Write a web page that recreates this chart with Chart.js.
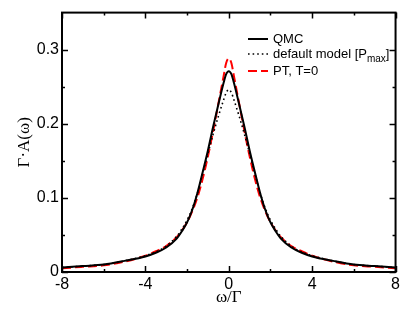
<!DOCTYPE html>
<html>
<head>
<meta charset="utf-8">
<script src="https://cdn.jsdelivr.net/npm/chart.js@4.4.1/dist/chart.umd.min.js"></script>
<style>
  html, body { margin: 0; padding: 0; background: #fff; }
  #wrap { width: 403px; height: 312px; }
</style>
</head>
<body>
<div id="wrap"><canvas id="c" width="403" height="312"></canvas></div>
<script>
// frequency grid (omega / Gamma)
var omega = [-8, -7, -6, -5, -4, -3.5, -3, -2.5, -2.25, -2, -1.75, -1.5, -1.25, -1, -0.75, -0.5, -0.25, -0.125, 0,
             0.125, 0.25, 0.5, 0.75, 1, 1.25, 1.5, 1.75, 2, 2.25, 2.5, 3, 3.5, 4, 5, 6, 7, 8];

// spectral functions
var qmc = [0.006, 0.008, 0.010, 0.015, 0.021, 0.026, 0.033, 0.045, 0.055, 0.067, 0.084, 0.107, 0.135, 0.164, 0.196, 0.226, 0.255, 0.267, 0.271,
           0.267, 0.255, 0.226, 0.196, 0.164, 0.135, 0.107, 0.084, 0.067, 0.055, 0.045, 0.033, 0.026, 0.021, 0.015, 0.010, 0.008, 0.006];
var defaultModel = [0.006, 0.008, 0.010, 0.015, 0.022, 0.027, 0.035, 0.048, 0.058, 0.070, 0.086, 0.107, 0.133, 0.160, 0.186, 0.210, 0.232, 0.242, 0.246,
                    0.242, 0.232, 0.210, 0.186, 0.160, 0.133, 0.107, 0.086, 0.070, 0.058, 0.048, 0.035, 0.027, 0.022, 0.015, 0.010, 0.008, 0.006];
var ptT0 = [0.005, 0.007, 0.009, 0.014, 0.022, 0.028, 0.035, 0.047, 0.056, 0.067, 0.082, 0.101, 0.126, 0.156, 0.190, 0.227, 0.264, 0.282, 0.288,
            0.282, 0.264, 0.227, 0.190, 0.156, 0.126, 0.101, 0.082, 0.067, 0.056, 0.047, 0.035, 0.028, 0.022, 0.014, 0.009, 0.007, 0.005];

var xTicks = [-8, -4, 0, 4, 8];
var xMinor = [-6, -2, 2, 6];
var yTicks = [0, 0.1, 0.2, 0.3];
var yMinor = [0.05, 0.15, 0.25];

var labels = ['QMC', 'default model [P', 'PT, T=0'];

function pts(ys) {
    return omega.map(function (x, i) { return { x: x, y: ys[i] }; });
}

// box around the plot with inward ticks on all four sides
var framePlugin = {
    id: 'frame',
    afterDatasetsDraw: function (chart) {
        var ctx = chart.ctx, a = chart.chartArea;
        var xs = chart.scales.x, ys = chart.scales.y;
        ctx.save();
        ctx.strokeStyle = '#000';
        ctx.lineWidth = 2;
        ctx.strokeRect(a.left, a.top, a.right - a.left, a.bottom - a.top);
        ctx.lineWidth = 1.5;
        ctx.beginPath();
        function xt(v, len) {
            var p = Math.round(xs.getPixelForValue(v)) + 0.5;
            ctx.moveTo(p, a.bottom); ctx.lineTo(p, a.bottom - len);
            ctx.moveTo(p, a.top); ctx.lineTo(p, a.top + len);
        }
        function yt(v, len) {
            var p = Math.round(ys.getPixelForValue(v)) + 0.5;
            ctx.moveTo(a.left, p); ctx.lineTo(a.left + len, p);
            ctx.moveTo(a.right, p); ctx.lineTo(a.right - len, p);
        }
        xTicks.forEach(function (v) { xt(v, 6); });
        xMinor.forEach(function (v) { xt(v, 3); });
        yTicks.forEach(function (v) { yt(v, 6); });
        yMinor.forEach(function (v) { yt(v, 3); });
        ctx.stroke();
        ctx.restore();
    }
};

// legend drawn by hand so the subscript can be set
var legendPlugin = {
    id: 'subLegend',
    afterDraw: function (chart) {
        var ctx = chart.ctx;
        var x0 = 248, x1 = 268, tx = 273;
        var rows = [39, 54, 71];
        ctx.save();
        chart.data.datasets.forEach(function (ds, i) {
            var y = rows[i];
            ctx.strokeStyle = ds.borderColor;
            ctx.lineWidth = ds.borderWidth;
            ctx.setLineDash(ds.borderDash || []);
            ctx.beginPath();
            ctx.moveTo(x0, y); ctx.lineTo(x1, y);
            ctx.stroke();
            ctx.setLineDash([]);
            ctx.fillStyle = '#000';
            ctx.font = '13px "Liberation Sans", Arial, sans-serif';
            ctx.textBaseline = 'middle';
            ctx.fillText(labels[i], tx, y);
            if (i === 1) {
                var w = ctx.measureText(labels[i]).width;
                ctx.font = '10px "Liberation Sans", Arial, sans-serif';
                ctx.fillText('max', tx + w, y + 5);
                var w2 = ctx.measureText('max').width;
                ctx.font = '13px "Liberation Sans", Arial, sans-serif';
                ctx.fillText(']', tx + w + w2, y);
            }
        });
        ctx.restore();
    }
};

var tickFont = { family: '"Liberation Sans", Arial, sans-serif', size: 16 };
var titleFont = { family: '"Liberation Serif", "Times New Roman", serif', size: 17 };

new Chart(document.getElementById('c'), {
    type: 'line',
    data: {
        datasets: [
            { label: 'QMC', data: pts(qmc), borderColor: '#000', borderWidth: 2 },
            { label: 'default model', data: pts(defaultModel), borderColor: '#000', borderWidth: 1.6, borderDash: [1.6, 3] },
            { label: 'PT, T=0', data: pts(ptT0), borderColor: '#ff0000', borderWidth: 2, borderDash: [9, 4] }
        ]
    },
    options: {
        responsive: false,
        animation: false,
        devicePixelRatio: 1,
        layout: { padding: { top: 6, right: 5, left: 0, bottom: 0 } },
        elements: {
            point: { radius: 0 },
            line: { cubicInterpolationMode: 'monotone', fill: false }
        },
        plugins: { legend: { display: false }, tooltip: { enabled: false } },
        scales: {
            x: {
                type: 'linear', min: -8, max: 8,
                grid: { display: false, drawTicks: false },
                border: { display: false },
                afterBuildTicks: function (s) { s.ticks = xTicks.map(function (v) { return { value: v }; }); },
                afterFit: function (s) { s.height = 40; },
                ticks: { color: '#000', font: tickFont, padding: 3, maxRotation: 0, autoSkip: false,
                         callback: function (v) { return String(v); } },
                title: { display: true, text: 'ω/Γ', color: '#000', font: titleFont, padding: { top: 0, bottom: 4 } }
            },
            y: {
                type: 'linear', min: 0, max: 0.35,
                grid: { display: false, drawTicks: false },
                border: { display: false },
                afterBuildTicks: function (s) { s.ticks = yTicks.map(function (v) { return { value: v }; }); },
                afterFit: function (s) { s.width = 62; },
                ticks: { color: '#000', font: tickFont, padding: 3, autoSkip: false,
                         callback: function (v) { return v === 0 ? '0' : v.toFixed(1); } },
                title: { display: true, text: 'Γ·A(ω)', color: '#000', font: titleFont, padding: { top: 14, bottom: 0 } }
            }
        }
    },
    plugins: [framePlugin, legendPlugin]
});
</script>
</body>
</html>
